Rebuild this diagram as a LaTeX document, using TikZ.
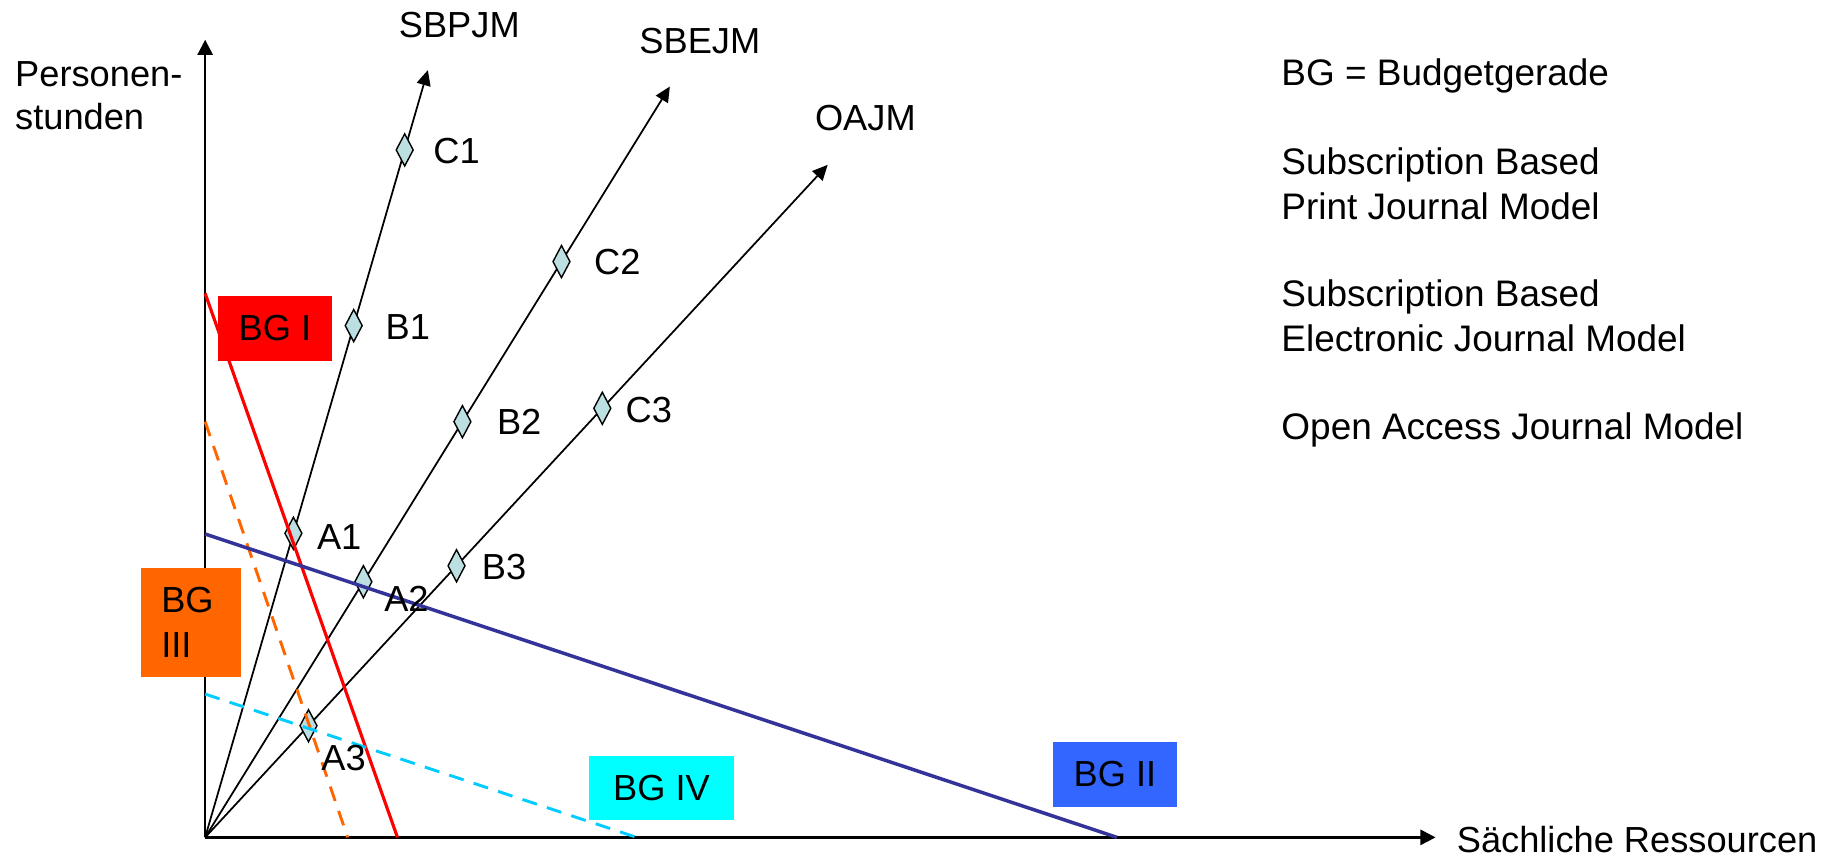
\documentclass[tikz,border=0pt]{standalone}
\usepackage{fontspec}
\setmainfont{Liberation Sans}
\usetikzlibrary{arrows.meta,shapes.geometric,calc}
\definecolor{dia}{RGB}{188,224,226}
\definecolor{bgred}{RGB}{255,0,0}
\definecolor{bgorange}{RGB}{255,102,0}
\definecolor{bgblueline}{RGB}{51,51,153}
\definecolor{bgbluebox}{RGB}{51,102,255}
\definecolor{bgcyanline}{RGB}{0,204,255}
\definecolor{bgcyanbox}{RGB}{0,255,255}
\begin{document}
\begin{tikzpicture}[x=1pt,y=-1pt,
  lbl/.style={anchor=base west, inner sep=0pt, font=\fontsize{31}{38}\selectfont},
  leg/.style={anchor=base west, inner sep=0pt, font=\fontsize{31.6}{38}\selectfont},
  axis/.style={line width=2pt, -{Triangle[length=13pt,width=13pt]}},
  ray/.style={line width=1.5pt, -{Triangle[length=13pt,width=12pt]}},
  dmd/.style={diamond, draw=black, line width=1.2pt, fill=dia, inner sep=0pt, minimum width=15pt, minimum height=28pt},
  bgbox/.style={rectangle, inner sep=0pt, font=\fontsize{31}{38.3}\selectfont},
  budget/.style={line width=2.7pt},
  dashbudget/.style={line width=2.5pt, dash pattern=on 13pt off 9pt}
]
\useasboundingbox (0,0) rectangle (1568,732);

% coordinates
\coordinate (O) at (175.5,716.3);
\coordinate (Ytip) at (175.5,34);
\coordinate (Xtip) at (1228,716.3);
\coordinate (T1) at (366,60);
\coordinate (T2) at (573,74);
\coordinate (T3) at (708,141);

% axes
\draw[axis] (O) -- (Ytip);
\draw[axis] (O) -- (Xtip);

% rays
\draw[ray] (O) -- (T1);
\draw[ray] (O) -- (T2);
\draw[ray] (O) -- (T3);

% diamonds
\node[dmd] (dC1) at ($(O)!0.896!(T1)$) {};
\node[dmd] (dB1) at ($(O)!0.667!(T1)$) {};
\node[dmd] (dA1) at ($(O)!0.3963!(T1)$) {};
\node[dmd] (dC2) at ($(O)!0.7668!(T2)$) {};
\node[dmd] (dB2) at ($(O)!0.5536!(T2)$) {};
\node[dmd] (dA2) at ($(O)!0.3405!(T2)$) {};
\node[dmd] (dC3) at ($(O)!0.638!(T3)$) {};
\node[dmd] (dB3) at ($(O)!0.4038!(T3)$) {};
\node[dmd] (dA3) at ($(O)!0.166!(T3)$) {};

% budget lines
\coordinate (R1) at (175.5,251);
\coordinate (R2) at (340,716.3);
\coordinate (Or1) at (175.5,360.7);
\coordinate (Or2) at (297.4,716.3);
\coordinate (Bl1) at (175.5,456.8);
\coordinate (Bl2) at (955.5,716.3);
\coordinate (Cy1) at (175.5,593.7);
\coordinate (Cy2) at (544.6,716.3);
\draw[budget, bgred] (R1) -- (R2);
\draw[dashbudget, bgorange] (Or1) -- (Or2);
\draw[budget, bgblueline, line width=3pt] (Bl1) -- (Bl2);
\draw[dashbudget, bgcyanline] (Cy1) -- (Cy2);

% budget boxes
\node[bgbox, fill=bgred, minimum width=97.2pt, minimum height=55.5pt] (bg1) at (235.2,280.75) {BG I};
\node[bgbox, fill=bgorange, minimum width=85.7pt, minimum height=92.9pt, text width=51pt, align=left] (bg3) at (163.45,532.45) {BG\\III};
\node[bgbox, fill=bgcyanbox, minimum width=123.8pt, minimum height=54.8pt] (bg4) at (565.9,674.1) {BG IV};
\node[bgbox, fill=bgbluebox, minimum width=105.9pt, minimum height=55.3pt] (bg2) at (953.75,662.35) {BG II};

% axis labels
\node[lbl] (pers1) at (12.8,74) {Personen-};
\node[lbl] (pers2) at (12.8,110.5) {stunden};
\node[lbl] (sach) at (1246,729) {Sächliche Ressourcen};

% ray labels
\node[lbl] (l1) at (341,32) {SBPJM};
\node[lbl] (l2) at (546.8,46) {SBEJM};
\node[lbl] (l3) at (697,112) {OAJM};

% point labels
\node[lbl] (tC1) at (370.6,139.7) {C1};
\node[lbl] (tB1) at (329.7,290) {B1};
\node[lbl] (tA1) at (271,469.7) {A1};
\node[lbl] (tC2) at (508,235) {C2};
\node[lbl] (tB2) at (425,372) {B2};
\node[lbl] (tA2) at (328.5,523) {A2};
\node[lbl] (tC3) at (535,361) {C3};
\node[lbl] (tB3) at (412,495.3) {B3};
\node[lbl] (tA3) at (274.8,659.3) {A3};

% legend
\node[leg] (g1) at (1096,73) {BG = Budgetgerade};
\node[leg] (g2a) at (1096,149) {Subscription Based};
\node[leg] (g2b) at (1096,187.5) {Print Journal Model};
\node[leg] (g3a) at (1096,262.5) {Subscription Based};
\node[leg] (g3b) at (1096,301) {Electronic Journal Model};
\node[leg] (g4) at (1096,376) {Open Access Journal Model};
\end{tikzpicture}
\end{document}
